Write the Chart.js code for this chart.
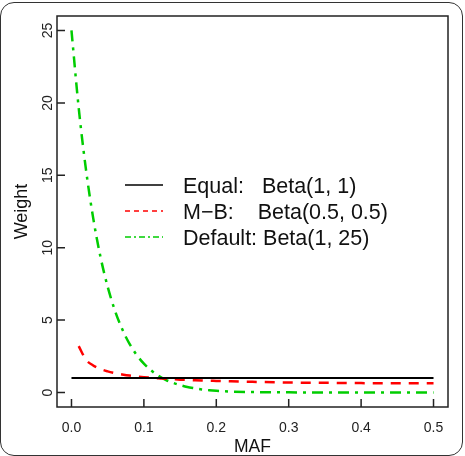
<!DOCTYPE html>
<html>
<head>
<meta charset="utf-8">
<script src="https://cdn.jsdelivr.net/npm/chart.js@4.4.0/dist/chart.umd.min.js"></script>
<style>
html, body { margin: 0; padding: 0; background: #fff; }
#wrap { position: relative; width: 465px; height: 456px; }
#wrap canvas { position: absolute; left: 0; top: 0; }
#frame { position: absolute; left: 0; top: 2px; width: 461px; height: 452px; border: 1.5px solid #333; border-radius: 14px; pointer-events: none; }
</style>
</head>
<body>
<div id="wrap">
  <canvas id="weights" width="465" height="456"></canvas>
  <div id="frame"></div>
</div>
<script>
// MAF grid and weights
const maf = [0, 0.01, 0.02, 0.03, 0.04, 0.05, 0.06, 0.07, 0.08, 0.09, 0.10,
             0.11, 0.12, 0.13, 0.14, 0.15, 0.16, 0.17, 0.18, 0.19, 0.20,
             0.22, 0.25, 0.30, 0.35, 0.40, 0.45, 0.50];
const equalW = [1, 1, 1, 1, 1, 1, 1, 1, 1, 1, 1,
                1, 1, 1, 1, 1, 1, 1, 1, 1, 1,
                1, 1, 1, 1, 1, 1, 1];
const mbW = [null, 3.20, 2.27, 1.87, 1.62, 1.46, 1.34, 1.25, 1.17, 1.11, 1.06,
             1.02, 0.98, 0.95, 0.92, 0.89, 0.87, 0.85, 0.83, 0.81, 0.80,
             0.77, 0.74, 0.69, 0.67, 0.65, 0.64, 0.64];
const defaultW = [25, 19.64, 15.40, 12.04, 9.38, 7.30, 5.66, 4.38, 3.38, 2.60, 1.99,
                  1.53, 1.16, 0.88, 0.67, 0.51, 0.38, 0.29, 0.21, 0.16, 0.12,
                  0.06, 0.03, 0.01, 0, 0, 0, 0];
const seriesLabels = ['Equal:   Beta(1, 1)', 'M\u2212B:    Beta(0.5, 0.5)', 'Default: Beta(1, 25)'];
const xTickVals = [0, 0.1, 0.2, 0.3, 0.4, 0.5];
const yTickVals = [0, 5, 10, 15, 20, 25];

const FONT = '"Liberation Sans", Arial, Helvetica, sans-serif';

function points(ys) {
    return maf.map((x, i) => ({ x: x, y: ys[i] }));
}

// box, inward ticks, rotated y labels and the legend (R base graphics look)
const rFrame = {
    id: 'rFrame',
    afterDraw(chart) {
        const ctx = chart.ctx;
        const a = chart.chartArea;
        const xs = chart.scales.x, ys = chart.scales.y;
        ctx.save();
        ctx.strokeStyle = '#222';
        ctx.lineWidth = 1.5;
        ctx.strokeRect(a.left, a.top, a.right - a.left, a.bottom - a.top);
        ctx.beginPath();
        xTickVals.forEach(v => {
            const px = xs.getPixelForValue(v);
            ctx.moveTo(px, a.bottom);
            ctx.lineTo(px, a.bottom - 8);
        });
        yTickVals.forEach(v => {
            const py = ys.getPixelForValue(v);
            ctx.moveTo(a.left, py);
            ctx.lineTo(a.left + 8, py);
        });
        ctx.stroke();

        ctx.fillStyle = '#222';
        ctx.font = '14px ' + FONT;
        ctx.textAlign = 'center';
        ctx.textBaseline = 'alphabetic';
        yTickVals.forEach(v => {
            const py = ys.getPixelForValue(v);
            ctx.save();
            ctx.translate(a.left - 5, py);
            ctx.rotate(-Math.PI / 2);
            ctx.fillText(String(v), 0, 0);
            ctx.restore();
        });

        // legend
        const lx = a.left + 68, tx = a.left + 126;
        let ly = a.top + 170;
        ctx.font = '21.5px ' + FONT;
        ctx.textAlign = 'left';
        ctx.textBaseline = 'middle';
        chart.data.datasets.forEach(ds => {
            ctx.save();
            ctx.strokeStyle = ds.borderColor;
            ctx.lineWidth = 1.5;
            ctx.setLineDash(ds.legendDash);
            ctx.beginPath();
            ctx.moveTo(lx, ly - 1);
            ctx.lineTo(lx + 38, ly - 1);
            ctx.stroke();
            ctx.restore();
            ctx.fillStyle = '#111';
            ctx.fillText(ds.label, tx, ly + 1);
            ly += 26;
        });
        ctx.restore();
    }
};

const chart = new Chart(document.getElementById('weights').getContext('2d'), {
    type: 'line',
    data: {
        datasets: [{
            label: seriesLabels[0],
            data: points(equalW),
            borderColor: '#000000',
            borderWidth: 2,
            legendDash: []
        }, {
            label: seriesLabels[1],
            data: points(mbW),
            borderColor: '#ff0000',
            borderWidth: 2.5,
            borderDash: [10, 8],
            legendDash: [5, 4]
        }, {
            label: seriesLabels[2],
            data: points(defaultW),
            borderColor: '#00cd00',
            borderWidth: 2.5,
            borderDash: [11, 6, 3, 6],
            legendDash: [6, 3, 2, 3]
        }]
    },
    options: {
        responsive: false,
        animation: false,
        devicePixelRatio: 1,
        layout: { padding: { top: 16, right: 17, left: 0, bottom: 0 } },
        elements: {
            point: { radius: 0 },
            line: { cubicInterpolationMode: 'monotone', fill: false }
        },
        plugins: {
            legend: { display: false },
            tooltip: { enabled: false }
        },
        scales: {
            x: {
                type: 'linear',
                min: -0.02,
                max: 0.52,
                afterBuildTicks: s => { s.ticks = xTickVals.map(v => ({ value: v })); },
                afterFit: s => { s.height = 49; },
                grid: { display: false, drawTicks: false },
                border: { display: false },
                ticks: {
                    autoSkip: false,
                    maxRotation: 0,
                    padding: 13,
                    color: '#222',
                    font: { family: FONT, size: 14 },
                    callback: v => Number(v).toFixed(1)
                },
                title: {
                    display: true,
                    text: 'MAF',
                    color: '#111',
                    font: { family: FONT, size: 17.5, lineHeight: 1 },
                    padding: { top: 0, bottom: 0 }
                }
            },
            y: {
                type: 'linear',
                min: -1,
                max: 26,
                afterBuildTicks: s => { s.ticks = yTickVals.map(v => ({ value: v })); },
                afterFit: s => { s.width = 57; },
                grid: { display: false, drawTicks: false },
                border: { display: false },
                ticks: { display: false },
                title: {
                    display: true,
                    text: 'Weight',
                    color: '#111',
                    font: { family: FONT, size: 18, lineHeight: 1 },
                    padding: { top: 13, bottom: 0 }
                }
            }
        }
    },
    plugins: [rFrame]
});
</script>
</body>
</html>
